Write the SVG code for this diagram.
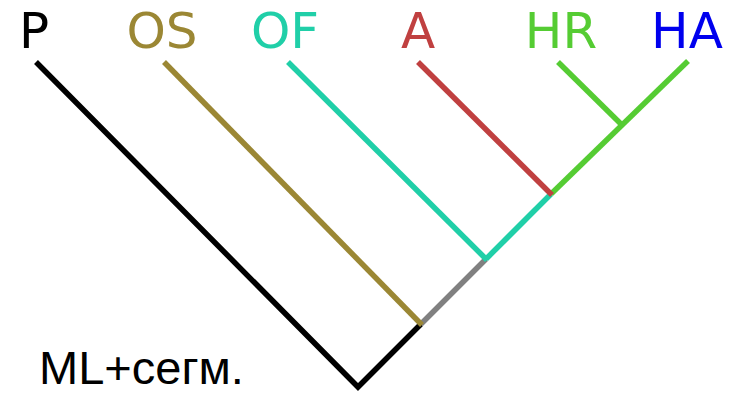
<svg xmlns="http://www.w3.org/2000/svg" width="735" height="395" viewBox="0 0 735 395">
<style>
.lbl{font-family:"DejaVu Sans",sans-serif;font-size:50px;text-anchor:middle}
.e{fill:none;stroke-width:5.5;stroke-linecap:butt;stroke-linejoin:miter}
.cap{font-family:"Liberation Sans",Arial,sans-serif;font-size:47px}
</style>
<rect width="735" height="395" fill="#fff"/>
<g id="connectors">
<polyline class="e" stroke="#000" points="36,62 358,387 421,324"/>
<line class="e" stroke="#808080" x1="421" y1="324" x2="486" y2="259"/>
<line class="e" stroke="#20cfa8" x1="486" y1="259" x2="551" y2="194"/>
<line class="e" stroke="#55cc33" x1="551" y1="194" x2="688" y2="61"/>
<line class="e" stroke="#9b8734" x1="164" y1="62" x2="422" y2="325"/>
<line class="e" stroke="#20cfa8" x1="288" y1="62" x2="487" y2="260"/>
<line class="e" stroke="#c04040" x1="418" y1="62" x2="552" y2="195"/>
<line class="e" stroke="#55cc33" x1="558" y1="62" x2="623" y2="126"/>
</g>
<g id="P"><text class="lbl" x="34" y="48" fill="#000">P</text></g>
<g id="OS"><text class="lbl" x="162" y="48" fill="#9b8734">OS</text></g>
<g id="OF"><text class="lbl" x="285" y="48" fill="#20cfa8">OF</text></g>
<g id="A"><text class="lbl" x="418" y="48" fill="#c04040">A</text></g>
<g id="HR"><text class="lbl" x="561" y="48" fill="#55cc33">HR</text></g>
<g id="HA"><text class="lbl" x="687" y="48" fill="#0000ee">HA</text></g>
<g id="caption"><text class="cap" x="39" y="384" fill="#000">ML+сегм.</text></g>
</svg>
